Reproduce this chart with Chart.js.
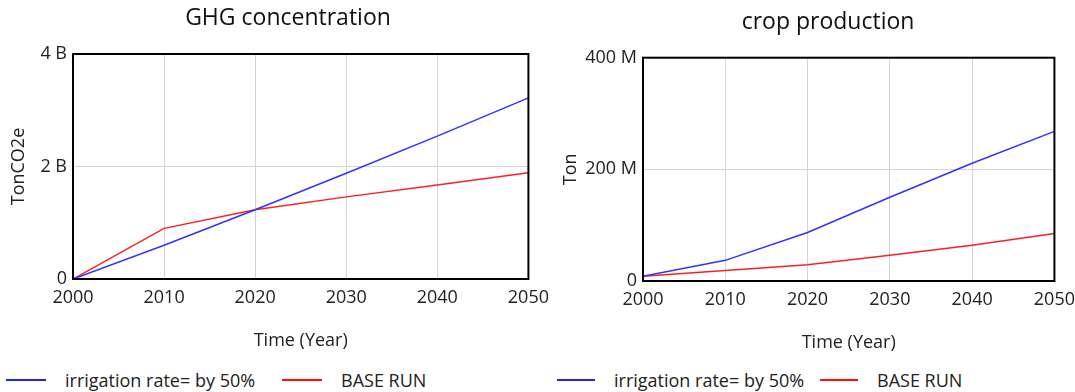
<!DOCTYPE html>
<html>
<head>
<meta charset="utf-8">
<script src="https://cdn.jsdelivr.net/npm/chart.js@4"></script>
<style>
  body { margin: 0; background: #fff; width: 1075px; height: 392px; position: relative; overflow: hidden;
         font-family: 'Open Sans', sans-serif; color: #222; }
  canvas { position: absolute; top: 0; }
  #ghgChart { left: 0; }
  #cropChart { left: 560px; }
  .legend { position: absolute; top: 368px; height: 24px; line-height: 24px; font-size: 18px; white-space: nowrap; }
  .legend span { position: absolute; top: 0; }
  .legend i { position: absolute; top: 11px; height: 2px; width: 40px; }
</style>
</head>
<body>
<canvas id="ghgChart" width="557" height="365"></canvas>
<canvas id="cropChart" width="523" height="367"></canvas>

<div class="legend" style="left:0">
  <i style="left:6px;background:#2020ff"></i><span style="left:65px">irrigation rate= by 50%</span>
  <i style="left:282px;background:#ff1010"></i><span style="left:341px">BASE RUN</span>
</div>
<div class="legend" style="left:0">
  <i style="left:557px;width:38px;background:#2020ff"></i><span style="left:614px">irrigation rate= by 50%</span>
  <i style="left:820px;width:38px;background:#ff1010"></i><span style="left:877px">BASE RUN</span>
</div>

<script>
const years = [2000, 2010, 2020, 2030, 2040, 2050];
const seriesNames = ['irrigation rate= by 50%', 'BASE RUN'];

// GHG concentration (TonCO2e)
const ghgIrrigation = [0, 0.60e9, 1.23e9, 1.88e9, 2.54e9, 3.22e9];
const ghgBase = [0, 0.90e9, 1.23e9, 1.46e9, 1.67e9, 1.89e9];
const ghgTicks = [0, 2e9, 4e9];

// crop production (Ton)
const cropIrrigation = [8.6e6, 37e6, 87e6, 150e6, 211e6, 268e6];
const cropBase = [8.6e6, 19e6, 29e6, 46e6, 64e6, 85e6];
const cropTicks = [0, 200e6, 400e6];

Chart.defaults.font.family = "'Open Sans', sans-serif";
Chart.defaults.color = '#222';

const blue = 'rgb(50, 50, 255)';
const red = 'rgb(255, 30, 30)';

// black frame round the plot area
const frame = {
    id: 'frame',
    afterDraw(chart) {
        const a = chart.chartArea;
        const ctx = chart.ctx;
        ctx.save();
        ctx.strokeStyle = '#000';
        ctx.lineWidth = 2;
        ctx.strokeRect(a.left, a.top, a.right - a.left, a.bottom - a.top);
        ctx.restore();
    }
};

function points(vals) {
    return years.map((y, i) => ({x: y, y: vals[i]}));
}

function makeChart(el, o) {
    return new Chart(document.getElementById(el), {
        type: 'line',
        data: {
            datasets: [
                {label: seriesNames[0], data: points(o.irr), borderColor: blue, borderWidth: 1.5, pointRadius: 0, tension: 0},
                {label: seriesNames[1], data: points(o.base), borderColor: red, borderWidth: 1.5, pointRadius: 0, tension: 0}
            ]
        },
        options: {
            responsive: false,
            animation: false,
            layout: {padding: {left: o.padL, right: 0, top: 0, bottom: 0}},
            plugins: {
                legend: {display: false},
                tooltip: {enabled: false},
                title: {
                    display: true,
                    text: o.title,
                    color: '#111',
                    font: {size: 23, weight: 'normal'},
                    padding: {top: o.titleTop, bottom: o.titleBottom}
                }
            },
            scales: {
                x: {
                    type: 'linear',
                    min: years[0],
                    max: years[years.length - 1],
                    afterFit: s => { s.height = o.xHeight; },
                    afterBuildTicks: s => { s.ticks = years.map(v => ({value: v})); },
                    ticks: {autoSkip: false, maxRotation: 0, padding: 8, font: {size: 18}, callback: v => String(v)},
                    grid: {color: '#d4d4d4', drawTicks: false},
                    border: {display: false},
                    title: {display: true, text: 'Time (Year)', font: {size: 18}, padding: {top: 0, bottom: 13}}
                },
                y: {
                    min: o.yTicks[0],
                    max: o.yTicks[o.yTicks.length - 1],
                    afterFit: s => { s.width = o.yWidth; },
                    afterBuildTicks: s => { s.ticks = o.yTicks.map(v => ({value: v})); },
                    ticks: {padding: 6, font: {size: 18}, callback: o.fmt},
                    grid: {color: '#d4d4d4', drawTicks: false},
                    border: {display: false},
                    title: {display: true, text: o.yTitle, font: {size: 18}, padding: {top: o.yTitlePad, bottom: 0}}
                }
            }
        },
        plugins: [frame]
    });
}

const ghgChart = makeChart('ghgChart', {
    title: 'GHG concentration',
    irr: ghgIrrigation,
    base: ghgBase,
    yTicks: ghgTicks,
    yTitle: 'TonCO2e',
    fmt: v => v === 0 ? '0' : (v / 1e9) + ' B',
    padL: 19,
    yWidth: 54, yTitlePad: -11,
    titleTop: 5, titleBottom: 21.4,
    xHeight: 86
});

const cropChart = makeChart('cropChart', {
    title: 'crop production',
    irr: cropIrrigation,
    base: cropBase,
    yTicks: cropTicks,
    yTitle: 'Ton',
    fmt: v => v === 0 ? '0' : (v / 1e6) + ' M',
    padL: 13,
    yWidth: 70, yTitlePad: -13,
    titleTop: 9, titleBottom: 21.1,
    xHeight: 86
});
</script>
</body>
</html>
